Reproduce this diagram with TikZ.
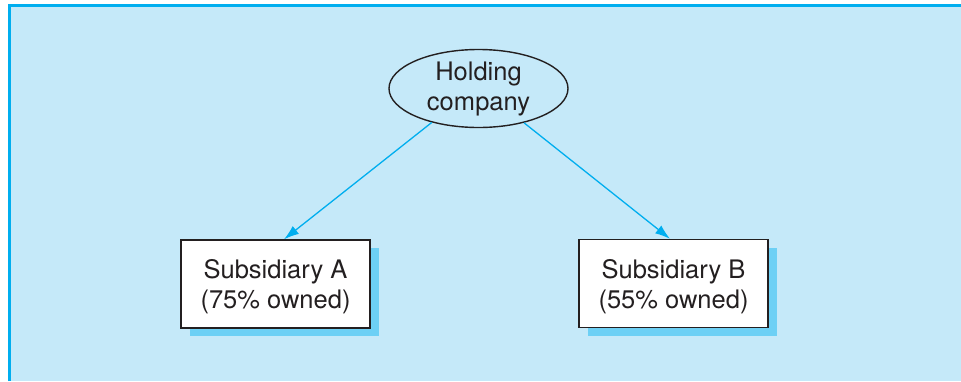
\documentclass[tikz,border=0pt]{standalone}
\usepackage{fontspec}
\setmainfont{TeX Gyre Heros}
\usetikzlibrary{arrows.meta,shapes.geometric,shadows}
\definecolor{panelfill}{HTML}{C5E9F9}
\definecolor{panelrule}{HTML}{00AEEF}
\definecolor{boxshade}{HTML}{6DD0F5}
\definecolor{inktext}{HTML}{231F20}
% invisible strut that sets the first line a little lower in the boxes
\newcommand{\toplift}{\rule{0pt}{24.5pt}}
\tikzset{
  labeltext/.style={font=\fontsize{25.5}{30}\selectfont, text=inktext, align=center},
  holder/.style={labeltext, ellipse, draw=inktext, line width=1.4pt, fill=panelfill,
    minimum width=179pt, minimum height=78pt, inner sep=0pt},
  subbox/.style={labeltext, rectangle, draw=inktext, line width=1.4pt, fill=white,
    minimum width=189pt, minimum height=88pt, inner sep=0pt,
    drop shadow={shadow xshift=9pt, shadow yshift=-8pt, fill=boxshade, opacity=1}},
  owns/.style={draw=panelrule, line width=1.3pt, -{Latex[length=15pt,width=10pt]}}
}
\begin{document}
\begin{tikzpicture}[x=1pt,y=-1pt]
  \useasboundingbox (0,0) rectangle (961,381);
  % panel background and its two ruled edges
  \fill[panelfill] (11,7) rectangle (961,381);
  \draw[panelrule, line width=3pt] (9.5,381) -- (9.5,5.5) -- (961,5.5);

  \node[holder] (hold) at (478.5,88.5) {Holding\\company};
  \node[subbox] (subA) at (275.5,284) {\toplift Subsidiary A\\(75\% owned)};
  \node[subbox] (subB) at (673.5,283.5) {\toplift Subsidiary B\\(55\% owned)};

  \draw[owns] (hold.216) -- ([xshift=8.5pt]subA.north);
  \draw[owns] (hold.323) -- ([xshift=-3.5pt]subB.north);
\end{tikzpicture}
\end{document}
